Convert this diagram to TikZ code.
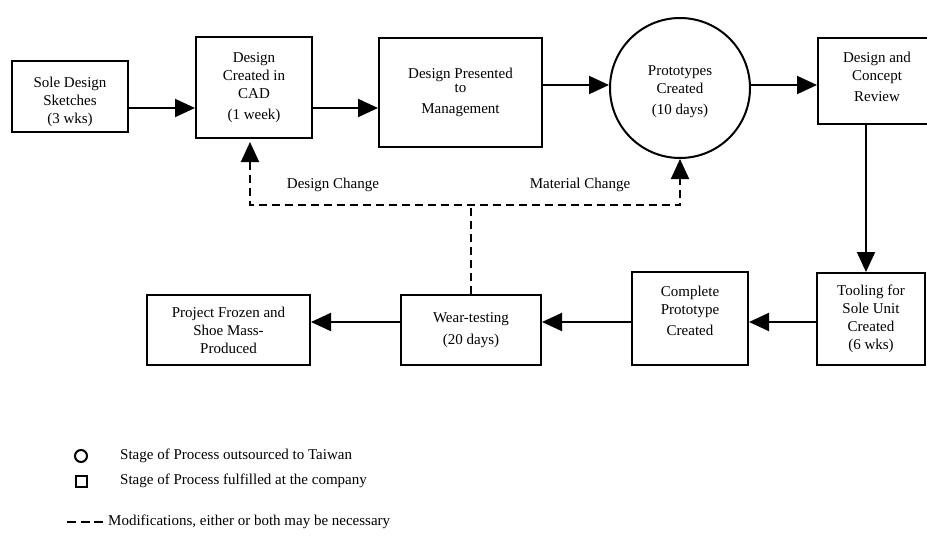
\documentclass[tikz,border=0pt]{standalone}
\usepackage{fontspec}
\setmainfont{Liberation Serif}
\usetikzlibrary{arrows.meta}
\begin{document}
\begin{tikzpicture}[x=1pt,y=-1pt,
  box/.style={draw, line width=2pt, align=center, inner sep=0pt,
    font=\fontsize{15}{18}\selectfont},
  flow/.style={line width=2pt, -{Triangle[length=20pt,width=18pt]}},
  mod/.style={line width=2pt, dash pattern=on 8pt off 5pt},
  lbl/.style={inner sep=0pt, font=\fontsize{15}{18}\selectfont},
  leg/.style={inner sep=0pt, anchor=west, font=\fontsize{15}{18}\selectfont}]
\useasboundingbox (0,0) rectangle (927,536);
\clip (0,0) rectangle (927,536);
% top row
\node[box, minimum width=116pt, minimum height=71pt] (sole) at (70,96.5) {\rule{0pt}{21pt}Sole Design\\Sketches\\(3 wks)};
\node[box, minimum width=116pt, minimum height=101pt] (cad) at (254,87.5) {Design\\Created in\\CAD\\[3pt](1 week)};
\node[box, minimum width=163pt, minimum height=109pt] (pres) at (460.5,92.5) {Design Presented\\[-4pt]to\\[3pt]Management};
\node[box, circle, minimum size=140pt] (circ) at (680,88) {\rule{0pt}{17pt}Prototypes\\Created\\[3pt](10 days)};
\node[box, minimum width=118pt, minimum height=86pt] (rev) at (877,81) {Design and\\Concept\\[3pt]Review\rule[-9pt]{0pt}{9pt}};
% bottom row
\node[box, minimum width=108pt, minimum height=92pt] (tool) at (871,319) {Tooling for\\Sole Unit\\Created\\(6 wks)};
\node[box, minimum width=116pt, minimum height=93pt] (comp) at (690,318.5) {Complete\\Prototype\\[3pt]Created\rule[-15pt]{0pt}{15pt}};
\node[box, minimum width=140pt, minimum height=70pt] (wear) at (471,330) {Wear-testing\\[4pt](20 days)};
\node[box, minimum width=163pt, minimum height=70pt] (proj) at (228.5,330) {Project Frozen and\\Shoe Mass-\\Produced};
% levels
\coordinate (a1) at (0,108);
\coordinate (a2) at (0,85);
\coordinate (a3) at (0,322);
\coordinate (d1) at (866,0);
\coordinate (dl) at (250,205);
\coordinate (dr) at (680,205);
% flow arrows
\draw[flow] (sole.east |- a1) -- (cad.west |- a1);
\draw[flow] (cad.east |- a1) -- (pres.west |- a1);
\draw[flow] (pres.east |- a2) -- (circ.west |- a2);
\draw[flow] (circ.east |- a2) -- (rev.west |- a2);
\draw[flow] (d1 |- rev.south) -- (d1 |- tool.north);
\draw[flow] (tool.west |- a3) -- (comp.east |- a3);
\draw[flow] (comp.west |- a3) -- (wear.east |- a3);
\draw[flow] (wear.west |- a3) -- (proj.east |- a3);
% modification loop
\draw[mod, {Triangle[length=20pt,width=18pt]}-{Triangle[length=20pt,width=18pt]}, shorten <=3pt]
  (cad.south -| dl) -- (dl) -- (dr) -- (circ.south);
\draw[mod] (wear.north) -- (wear.north |- dl);
\node[lbl] (dc) at (333,185) {Design Change};
\node[lbl] (mc) at (580,185) {Material Change};
% legend
\node[draw, circle, line width=2pt, minimum size=12pt, inner sep=0pt] (lc) at (81,456) {};
\node[draw, line width=2pt, minimum size=11pt, inner sep=0pt] (ls) at (81,481) {};
\coordinate (ld1) at (67,522);
\coordinate (ld2) at (103,522);
\draw[line width=1.8pt, dash pattern=on 9pt off 4.5pt] (ld1) -- (ld2);
\node[leg] (t1) at (120,456) {Stage of Process outsourced to Taiwan};
\node[leg] (t2) at (120,481) {Stage of Process fulfilled at the company};
\node[leg] (t3) at (108,522) {Modifications, either or both may be necessary};
\end{tikzpicture}
\end{document}
